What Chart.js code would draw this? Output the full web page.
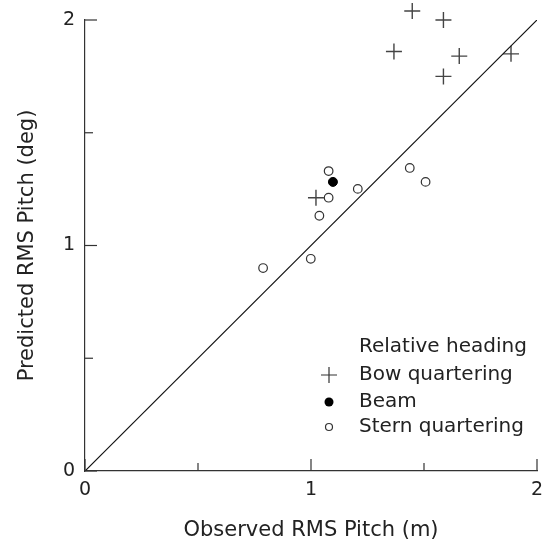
<!DOCTYPE html>
<html>
<head>
<meta charset="utf-8">
<script src="https://cdn.jsdelivr.net/npm/chart.js@4.4.0/dist/chart.umd.min.js"></script>
<style>html,body{margin:0;padding:0;background:#fff}</style>
</head>
<body>
<canvas id="chart" width="548" height="551"></canvas>
<script>
// datos
const seriesNames = ['Bow quartering', 'Beam', 'Stern quartering'];
const legendTitle = 'Relative heading';
const bowX = [1.448, 1.586, 1.367, 1.656, 1.586, 1.885, 1.022];
const bowY = [2.04, 2.00, 1.86, 1.84, 1.75, 1.85, 1.212];
const beamX = [1.097];
const beamY = [1.282];
const sternX = [0.788, 0.999, 1.037, 1.078, 1.078, 1.207, 1.437, 1.507];
const sternY = [0.900, 0.941, 1.132, 1.212, 1.330, 1.251, 1.344, 1.282];
const lineX = [0, 2];
const lineY = [0, 2];
const tickValues = [0, 0.5, 1, 1.5, 2];
const tickLabels = { 0: '0', 1: '1', 2: '2' };
const xTitle = 'Observed RMS Pitch (m)';
const yTitle = 'Predicted RMS Pitch (deg)';

const FONT = '"DejaVu Sans", sans-serif';
const ink = '#222';

const toPts = (xs, ys) => xs.map((x, i) => ({ x: x, y: ys[i] }));

// marcas de los ejes hacia dentro (mayores y menores)
const tickMarks = {
    id: 'tickMarks',
    afterDraw(chart) {
        const ctx = chart.ctx;
        const xs = chart.scales.x, ys = chart.scales.y;
        const a = chart.chartArea;
        ctx.save();
        ctx.strokeStyle = '#333';
        ctx.lineWidth = 1.2;
        tickValues.forEach(v => {
            const len = (v in tickLabels) ? 12 : 8;
            const px = xs.getPixelForValue(v);
            ctx.beginPath();
            ctx.moveTo(px, a.bottom);
            ctx.lineTo(px, a.bottom - len);
            ctx.stroke();
            const py = ys.getPixelForValue(v);
            ctx.beginPath();
            ctx.moveTo(a.left, py);
            ctx.lineTo(a.left + len, py);
            ctx.stroke();
        });
        ctx.restore();
    }
};

function drawMarker(ctx, kind, x, y) {
    ctx.beginPath();
    if (kind === 'cross') {
        ctx.moveTo(x - 8, y); ctx.lineTo(x + 8, y);
        ctx.moveTo(x, y - 8); ctx.lineTo(x, y + 8);
        ctx.stroke();
    } else if (kind === 'filled') {
        ctx.arc(x, y, 4.5, 0, Math.PI * 2);
        ctx.fillStyle = '#000';
        ctx.fill();
    } else {
        ctx.arc(x, y, 3.5, 0, Math.PI * 2);
        ctx.fillStyle = '#fff';
        ctx.fill();
        ctx.stroke();
    }
}

// leyenda dentro del área del gráfico
const insideLegend = {
    id: 'insideLegend',
    afterDraw(chart) {
        const ctx = chart.ctx;
        const a = chart.chartArea;
        const textX = a.left + 274;
        const markX = a.left + 244;
        const rows = [a.top + 327, a.top + 355, a.top + 382, a.top + 407];
        const kinds = ['cross', 'filled', 'open'];
        ctx.save();
        ctx.font = '20px ' + FONT;
        ctx.fillStyle = ink;
        ctx.textBaseline = 'middle';
        ctx.fillText(legendTitle, textX, rows[0]);
        seriesNames.forEach((name, i) => {
            ctx.strokeStyle = '#333';
            ctx.lineWidth = 1.2;
            drawMarker(ctx, kinds[i], markX, rows[i + 1]);
            ctx.fillStyle = ink;
            ctx.fillText(name, textX, rows[i + 1]);
        });
        ctx.restore();
    }
};

const ctx = document.getElementById('chart').getContext('2d');
new Chart(ctx, {
    type: 'scatter',
    data: {
        datasets: [
            {
                type: 'line',
                label: 'y = x',
                data: toPts(lineX, lineY),
                borderColor: '#111',
                borderWidth: 1.2,
                pointRadius: 0,
                fill: false
            },
            {
                label: seriesNames[0],
                data: toPts(bowX, bowY),
                pointStyle: 'cross',
                pointRadius: 8,
                borderColor: '#444',
                borderWidth: 1.4,
                clip: false
            },
            {
                label: seriesNames[1],
                data: toPts(beamX, beamY),
                pointStyle: 'circle',
                pointRadius: 4.5,
                backgroundColor: '#000',
                borderColor: '#000',
                borderWidth: 1
            },
            {
                label: seriesNames[2],
                data: toPts(sternX, sternY),
                pointStyle: 'circle',
                pointRadius: 4.3,
                backgroundColor: '#fff',
                borderColor: '#333',
                borderWidth: 1.2
            }
        ]
    },
    options: {
        responsive: false,
        animation: false,
        layout: { padding: { top: 20, right: 11, left: 0, bottom: 0 } },
        plugins: {
            legend: { display: false },
            tooltip: { enabled: false }
        },
        scales: {
            x: {
                type: 'linear',
                min: 0,
                max: 2,
                afterBuildTicks: s => { s.ticks = tickValues.map(v => ({ value: v })); },
                afterFit: s => { s.height = 80; },
                grid: { display: false },
                border: { display: true, color: '#333', width: 1.2 },
                ticks: {
                    autoSkip: false,
                    maxRotation: 0,
                    padding: 0,
                    color: ink,
                    font: { family: FONT, size: 19 },
                    callback: v => tickLabels[v] ?? ''
                },
                title: {
                    display: true,
                    text: xTitle,
                    color: ink,
                    font: { family: FONT, size: 21 },
                    padding: { top: 0, bottom: 8 }
                }
            },
            y: {
                type: 'linear',
                min: 0,
                max: 2,
                afterBuildTicks: s => { s.ticks = tickValues.map(v => ({ value: v })); },
                afterFit: s => { s.width = 85; },
                grid: { display: false },
                border: { display: true, color: '#333', width: 1.2 },
                ticks: {
                    autoSkip: false,
                    padding: 2,
                    color: ink,
                    font: { family: FONT, size: 19 },
                    callback: v => tickLabels[v] ?? ''
                },
                title: {
                    display: true,
                    text: yTitle,
                    color: ink,
                    font: { family: FONT, size: 21 },
                    padding: { top: 15, bottom: 0 }
                }
            }
        }
    },
    plugins: [tickMarks, insideLegend]
});
</script>
</body>
</html>
